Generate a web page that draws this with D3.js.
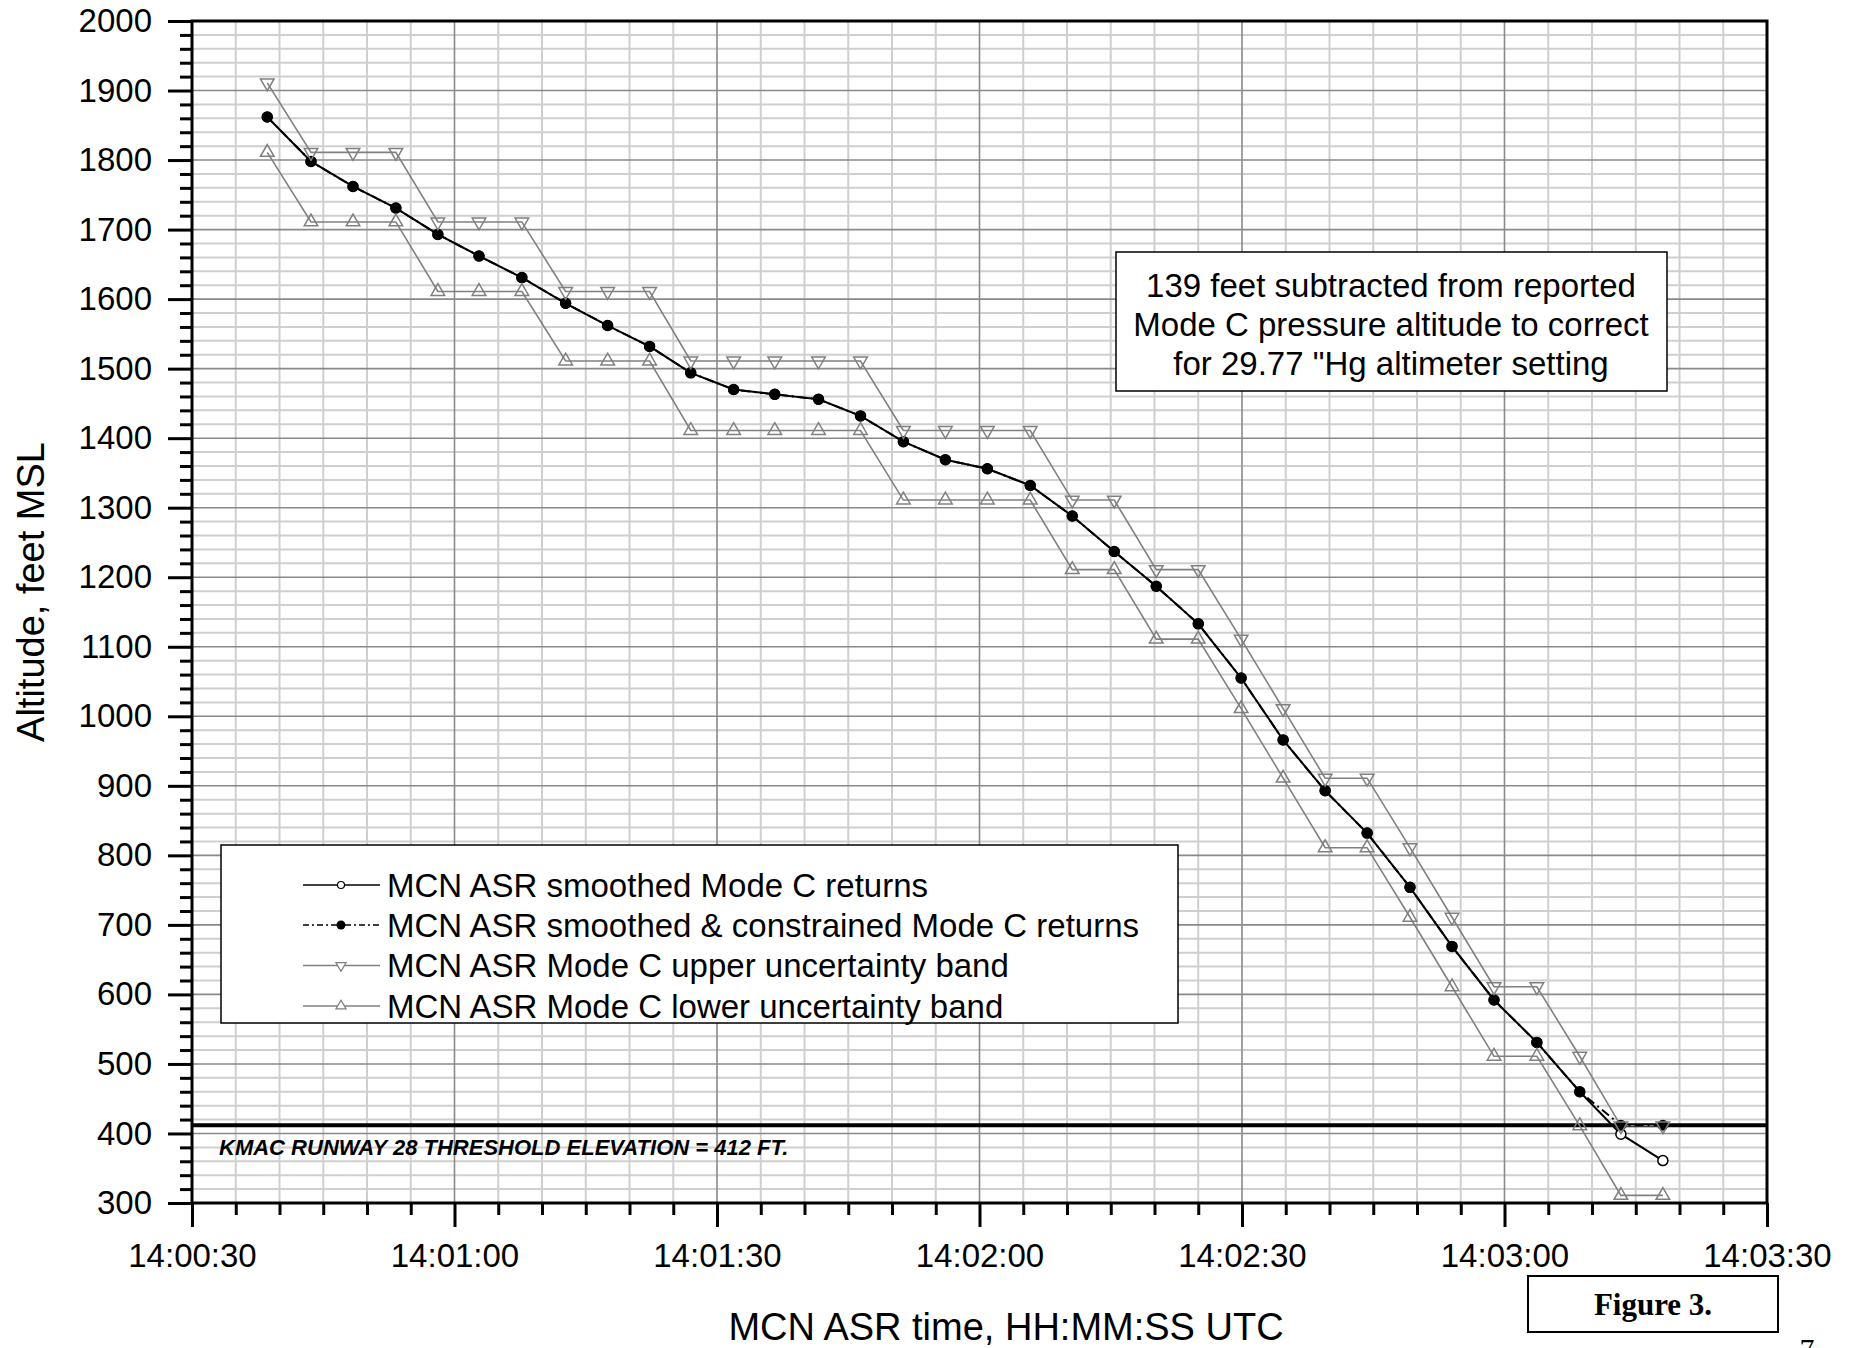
<!DOCTYPE html>
<html><head><meta charset="utf-8">
<script src="https://cdn.jsdelivr.net/npm/d3@7"></script>
<style>
body{margin:0;background:#fff;}
svg{display:block;}
text{font-family:"Liberation Sans",Arial,sans-serif;fill:#000;}
text.serif{font-family:"Liberation Serif","Times New Roman",serif;}
</style>
</head><body>
<svg id="c" width="1852" height="1348"></svg>
<script>
// ---- data (time = seconds after 14:00:00 UTC) ----
const times = [38.6, 43.6, 48.4, 53.3, 58.1, 62.8, 67.7, 72.7, 77.5, 82.3,
  87.0, 91.9, 96.6, 101.6, 106.4, 111.3, 116.1, 120.9, 125.8, 130.6,
  135.4, 140.2, 145.0, 149.9, 154.7, 159.5, 164.3, 169.2, 174.0, 178.8,
  183.7, 188.6, 193.3, 198.1];
const smoothed = [1862, 1798, 1762, 1731, 1693, 1662, 1631, 1594, 1562, 1532,
  1494, 1470, 1463, 1456, 1432, 1395, 1369, 1356, 1332, 1288,
  1237, 1187, 1133, 1055, 966, 893, 832, 754, 669, 592,
  531, 460, 399, 361];
const constrained = [1862, 1798, 1762, 1731, 1693, 1662, 1631, 1594, 1562, 1532,
  1494, 1470, 1463, 1456, 1432, 1395, 1369, 1356, 1332, 1288,
  1237, 1187, 1133, 1055, 966, 893, 832, 754, 669, 592,
  531, 460, 412, 412];
const upperBand = [1911, 1811, 1811, 1811, 1711, 1711, 1711, 1611, 1611, 1611,
  1511, 1511, 1511, 1511, 1511, 1411, 1411, 1411, 1411, 1311,
  1311, 1211, 1211, 1111, 1011, 911, 911, 811, 711, 611,
  611, 511, 411, 411];
const lowerBand = [1811, 1711, 1711, 1711, 1611, 1611, 1611, 1511, 1511, 1511,
  1411, 1411, 1411, 1411, 1411, 1311, 1311, 1311, 1311, 1211,
  1211, 1111, 1111, 1011, 911, 811, 811, 711, 611, 511,
  511, 411, 311, 311];
const xTickValues = [30, 60, 90, 120, 150, 180, 210];
const xTickLabels = ["14:00:30", "14:01:00", "14:01:30", "14:02:00", "14:02:30", "14:03:00", "14:03:30"];
const yTickValues = [300, 400, 500, 600, 700, 800, 900, 1000, 1100, 1200, 1300, 1400, 1500, 1600, 1700, 1800, 1900, 2000];
const thresholdElevation = 412;
const thresholdLabel = "KMAC RUNWAY 28 THRESHOLD ELEVATION = 412 FT.";
const seriesNames = ["MCN ASR smoothed Mode C returns",
  "MCN ASR smoothed & constrained Mode C returns",
  "MCN ASR Mode C upper uncertainty band",
  "MCN ASR Mode C lower uncertainty band"];
const noteLines = ["139 feet subtracted from reported",
  "Mode C pressure altitude to correct",
  "for 29.77 \"Hg altimeter setting"];
const xTitle = "MCN ASR time, HH:MM:SS UTC";
const yTitle = "Altitude, feet MSL";
const figureLabel = "Figure 3.";
const pageNumber = "7";

// ---- layout ----
const L = 192, R = 1767, T = 21, B = 1203;
const svg = d3.select("#c");
const x = d3.scaleLinear().domain([30, 210]).range([L, R]);
const y = d3.scaleLinear().domain([300, 2000]).range([B, T]);
const GRAY = "#808080";

const minorX = d3.range(30, 211, 5).filter(v => v % 30 !== 0);
const minorY = d3.range(300, 2001, 20).filter(v => v % 100 !== 0);

// gridlines
const g = svg.append("g");
g.selectAll(".vmin").data(minorX).join("line")
  .attr("x1", d => x(d)).attr("x2", d => x(d)).attr("y1", T).attr("y2", B)
  .attr("stroke", "#cfcfcf").attr("stroke-width", 2);
g.selectAll(".hmin").data(minorY).join("line")
  .attr("y1", d => y(d)).attr("y2", d => y(d)).attr("x1", L).attr("x2", R)
  .attr("stroke", "#cfcfcf").attr("stroke-width", 2);
g.selectAll(".vmaj").data(xTickValues).join("line")
  .attr("x1", d => x(d)).attr("x2", d => x(d)).attr("y1", T).attr("y2", B)
  .attr("stroke", "#8a8a8a").attr("stroke-width", 1.6);
g.selectAll(".hmaj").data(yTickValues).join("line")
  .attr("y1", d => y(d)).attr("y2", d => y(d)).attr("x1", L).attr("x2", R)
  .attr("stroke", "#8a8a8a").attr("stroke-width", 1.6);

// threshold line
svg.append("line").attr("x1", L).attr("x2", R)
  .attr("y1", y(thresholdElevation)).attr("y2", y(thresholdElevation))
  .attr("stroke", "#000").attr("stroke-width", 4);
svg.append("text").attr("x", L + 27).attr("y", y(400) + 22)
  .attr("font-size", 22).attr("font-weight", "bold").attr("font-style", "italic")
  .text(thresholdLabel);

// axes
const fmt = d => xTickLabels[xTickValues.indexOf(d)];
const xAxis = svg.append("g").attr("transform", `translate(0,${B})`)
  .call(d3.axisBottom(x).tickValues(xTickValues).tickFormat(fmt).tickSize(24).tickPadding(17));
const xMinor = svg.append("g").attr("transform", `translate(0,${B})`)
  .call(d3.axisBottom(x).tickValues(minorX).tickFormat("").tickSize(12));
const yAxis = svg.append("g").attr("transform", `translate(${L},0)`)
  .call(d3.axisLeft(y).tickValues(yTickValues).tickFormat(d3.format("d")).tickSize(24).tickPadding(16));
const yMinor = svg.append("g").attr("transform", `translate(${L},0)`)
  .call(d3.axisLeft(y).tickValues(minorY).tickFormat("").tickSize(12));
[xAxis, xMinor, yAxis, yMinor].forEach(a => {
  a.select(".domain").remove();
  a.selectAll("line").attr("stroke", "#000").attr("stroke-width", 3);
  a.selectAll("text").attr("font-size", 33).attr("fill", "#000");
});

// frame
svg.append("rect").attr("x", L).attr("y", T).attr("width", R - L).attr("height", B - T)
  .attr("fill", "none").attr("stroke", "#000").attr("stroke-width", 3);

// series
const pts = arr => times.map((t, i) => [t, arr[i]]);
const line = d3.line().x(d => x(d[0])).y(d => y(d[1]));
svg.append("path").attr("d", line(pts(upperBand))).attr("fill", "none").attr("stroke", GRAY).attr("stroke-width", 1.6);
svg.append("path").attr("d", line(pts(lowerBand))).attr("fill", "none").attr("stroke", GRAY).attr("stroke-width", 1.6);
svg.append("path").attr("d", line(pts(smoothed))).attr("fill", "none").attr("stroke", "#000").attr("stroke-width", 2);
svg.append("path").attr("d", line(pts(constrained))).attr("fill", "none").attr("stroke", "#000").attr("stroke-width", 2)
  .attr("stroke-dasharray", "9,4,2,4");

const tri = d3.symbol().type(d3.symbolTriangle).size(80);
svg.append("g").selectAll("circle").data(pts(smoothed)).join("circle")
  .attr("cx", d => x(d[0])).attr("cy", d => y(d[1])).attr("r", 5)
  .attr("fill", "#fff").attr("stroke", "#000").attr("stroke-width", 1.5);
svg.append("g").selectAll("circle").data(pts(constrained)).join("circle")
  .attr("cx", d => x(d[0])).attr("cy", d => y(d[1])).attr("r", 5.5)
  .attr("fill", "#000");
svg.append("g").selectAll("path").data(pts(upperBand)).join("path")
  .attr("d", tri).attr("transform", d => `translate(${x(d[0])},${y(d[1])}) rotate(180)`)
  .attr("fill", "none").attr("stroke", GRAY).attr("stroke-width", 1.5);
svg.append("g").selectAll("path").data(pts(lowerBand)).join("path")
  .attr("d", tri).attr("transform", d => `translate(${x(d[0])},${y(d[1])})`)
  .attr("fill", "none").attr("stroke", GRAY).attr("stroke-width", 1.5);

// legend
const lg = svg.append("g");
lg.append("rect").attr("x", 221).attr("y", 845).attr("width", 957).attr("height", 178)
  .attr("fill", "#fff").attr("stroke", "#000").attr("stroke-width", 1.5);
const legendY = [885, 925, 965.5, 1006];
const lstyle = [
  {stroke: "#000", dash: null, marker: "open"},
  {stroke: "#000", dash: "6,3,2,3", marker: "filled"},
  {stroke: GRAY, dash: null, marker: "down"},
  {stroke: GRAY, dash: null, marker: "up"}];
const smallTri = d3.symbol().type(d3.symbolTriangle).size(45);
seriesNames.forEach((name, i) => {
  const yy = legendY[i], s = lstyle[i];
  lg.append("line").attr("x1", 303).attr("x2", 380).attr("y1", yy).attr("y2", yy)
    .attr("stroke", s.stroke).attr("stroke-width", 1.6).attr("stroke-dasharray", s.dash);
  if (s.marker === "open") lg.append("circle").attr("cx", 341).attr("cy", yy).attr("r", 3.5).attr("fill", "#fff").attr("stroke", "#000").attr("stroke-width", 1.2);
  if (s.marker === "filled") lg.append("circle").attr("cx", 341).attr("cy", yy).attr("r", 4.5).attr("fill", "#000");
  if (s.marker === "down") lg.append("path").attr("d", smallTri).attr("transform", `translate(341,${yy}) rotate(180)`).attr("fill", "#fff").attr("stroke", GRAY).attr("stroke-width", 1.2);
  if (s.marker === "up") lg.append("path").attr("d", smallTri).attr("transform", `translate(341,${yy})`).attr("fill", "#fff").attr("stroke", GRAY).attr("stroke-width", 1.2);
  lg.append("text").attr("x", 387).attr("y", yy).attr("dy", "0.36em").attr("font-size", 33).text(name);
});

// note box
const nb = svg.append("g");
nb.append("rect").attr("x", 1116).attr("y", 252).attr("width", 551).attr("height", 139)
  .attr("fill", "#fff").attr("stroke", "#000").attr("stroke-width", 1.5);
noteLines.forEach((t, i) => {
  nb.append("text").attr("x", 1391).attr("y", 285 + i * 39).attr("dy", "0.36em")
    .attr("text-anchor", "middle").attr("font-size", 33).text(t);
});

// axis titles
svg.append("text").attr("transform", "translate(30,592) rotate(-90)")
  .attr("text-anchor", "middle").attr("dy", "0.36em").attr("font-size", 38).text(yTitle);
svg.append("text").attr("x", 1006).attr("y", 1326).attr("dy", "0.36em")
  .attr("text-anchor", "middle").attr("font-size", 38).text(xTitle);

// figure label
svg.append("rect").attr("x", 1528).attr("y", 1276).attr("width", 250).attr("height", 56)
  .attr("fill", "#fff").attr("stroke", "#000").attr("stroke-width", 2);
svg.append("text").attr("class", "serif").attr("x", 1653).attr("y", 1304).attr("dy", "0.35em").attr("text-anchor", "middle")
  .attr("font-weight", "bold").attr("font-size", 31).text(figureLabel);
svg.append("text").attr("class", "serif").attr("x", 1807).attr("y", 1359).attr("text-anchor", "middle")
  .attr("font-size", 30).text(pageNumber);
</script>
</body></html>
